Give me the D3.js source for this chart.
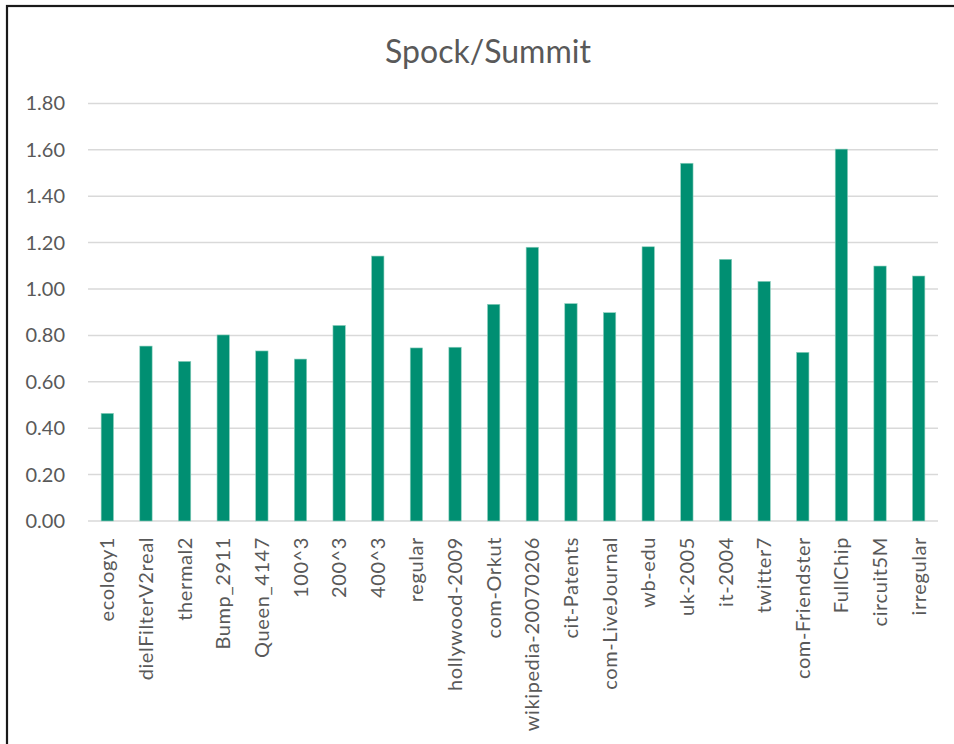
<!DOCTYPE html>
<html>
<head>
<meta charset="utf-8">
<script src="https://cdn.jsdelivr.net/npm/d3@7"></script>
<style>
  html, body { margin: 0; padding: 0; background: #fff; }
  svg { display: block; }
  text { font-family: Lato, "Open Sans", sans-serif; fill: #595959; }
</style>
</head>
<body>
<svg id="chart" width="954" height="744"></svg>
<script>
// Speedup of Spock over Summit per matrix / graph
const categories = [
  "ecology1", "dielFilterV2real", "thermal2", "Bump_2911", "Queen_4147",
  "100^3", "200^3", "400^3", "regular", "hollywood-2009", "com-Orkut",
  "wikipedia-20070206", "cit-Patents", "com-LiveJournal", "wb-edu", "uk-2005",
  "it-2004", "twitter7", "com-Friendster", "FullChip", "circuit5M", "irregular"
];
const speedup = [
  0.464, 0.754, 0.688, 0.802, 0.733, 0.698, 0.843, 1.142, 0.746, 0.749, 0.934,
  1.180, 0.937, 0.898, 1.182, 1.542, 1.128, 1.033, 0.727, 1.603, 1.099, 1.056
];
const yTicks = [0, 0.2, 0.4, 0.6, 0.8, 1.0, 1.2, 1.4, 1.6, 1.8];
const title = "Spock/Summit";

const svg = d3.select("#chart");

// chart frame
svg.append("rect")
  .attr("x", 7).attr("y", 6)
  .attr("width", 960).attr("height", 760)
  .attr("fill", "#fff")
  .attr("stroke", "#1a1a1a").attr("stroke-width", 2.2);

const plot = { left: 88, right: 938, top: 103.4, bottom: 521 };

const x = d3.scaleBand()
  .domain(categories)
  .range([plot.left, plot.right])
  .paddingInner(0.68)
  .paddingOuter(0.34);

const y = d3.scaleLinear()
  .domain([0, 1.8])
  .range([plot.bottom, plot.top]);

// title
svg.append("text")
  .attr("x", 488).attr("y", 63)
  .attr("text-anchor", "middle")
  .style("font-size", "32px")
  .text(title);

// horizontal gridlines
svg.append("g")
  .selectAll("line")
  .data(yTicks)
  .join("line")
  .attr("x1", plot.left).attr("x2", plot.right)
  .attr("y1", d => y(d)).attr("y2", d => y(d))
  .attr("stroke", "#d9d9d9").attr("stroke-width", 1.5);

// y axis labels
const yAxis = d3.axisLeft(y)
  .tickValues(yTicks)
  .tickFormat(d3.format(".2f"))
  .tickSize(0)
  .tickPadding(0);
const gy = svg.append("g")
  .attr("transform", `translate(65,0)`)
  .call(yAxis);
gy.select(".domain").remove();
gy.selectAll("text")
  .style("font-size", "20px")
  .style("font-family", "Lato, 'Open Sans', sans-serif")
  .attr("fill", "#595959");

// bars
svg.append("g")
  .selectAll("rect")
  .data(categories.map((c, i) => ({ c, v: speedup[i] })))
  .join("rect")
  .attr("x", d => x(d.c))
  .attr("y", d => y(d.v))
  .attr("width", x.bandwidth())
  .attr("height", d => y(0) - y(d.v))
  .attr("fill", "#008f72")
  .attr("stroke", "#8fd0bf")
  .attr("stroke-width", 0.6);

// x axis labels (rotated)
const xAxis = d3.axisBottom(x).tickSize(0).tickPadding(0);
const gx = svg.append("g")
  .attr("transform", `translate(0,${plot.bottom})`)
  .call(xAxis);
gx.select(".domain").remove();
gx.selectAll("text")
  .style("font-size", "20px")
  .style("letter-spacing", "0.6px")
  .style("font-family", "Lato, 'Open Sans', sans-serif")
  .attr("fill", "#595959")
  .attr("text-anchor", "end")
  .attr("dy", "0.35em")
  .attr("transform", "translate(0,16) rotate(-90)")
  .attr("x", 0).attr("y", 0);
</script>
</body>
</html>
